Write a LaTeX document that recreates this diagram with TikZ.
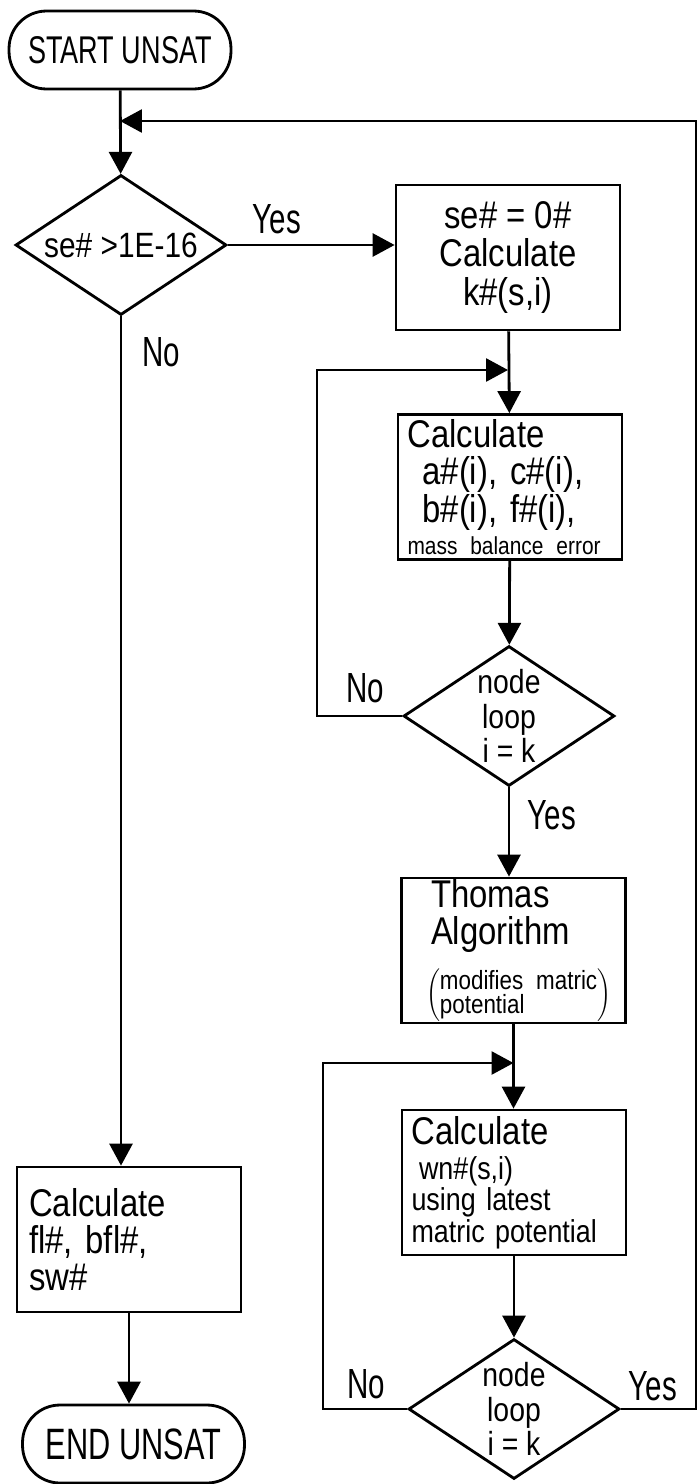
\documentclass[tikz,border=0pt]{standalone}
\usepackage{fontspec}
\setmainfont[FakeStretch=0.85]{Liberation Sans}
\newfontfamily\narrowfont[FakeStretch=0.7]{Liberation Sans}
\usetikzlibrary{arrows.meta,shapes.geometric}

\begin{document}
\begin{tikzpicture}[x=0.02cm,y=-0.02cm,line width=1.6pt,>={Triangle[length=0.44cm,width=0.46cm]}]
\tikzstyle{term}=[draw,rounded corners=0.75cm,minimum width=4.44cm,minimum height=1.56cm,font=\narrowfont\fontsize{22}{24}\selectfont];
\tikzstyle{box}=[draw,rectangle,minimum width=4.48cm,minimum height=2.9cm,inner sep=0pt,align=left,font=\fontsize{22}{21}\selectfont];
\tikzstyle{test}=[draw,diamond,aspect=1.5,minimum width=4.22cm,minimum height=2.8cm,inner sep=0pt,align=center,font=\fontsize{19}{19.5}\selectfont];
\tikzstyle{lbl}=[font=\narrowfont\fontsize{24}{26}\selectfont];
\useasboundingbox (0,0) rectangle (697,1484);
% main column
\path (120,50) node[term] (start) {START UNSAT};
\path (121,245) node[test,font=\fontsize{20}{22}\selectfont] (se) {se\# >1E-16};
\path (129,1239.5) node[box,text width=4cm] (flux) {Calculate\\fl\#, bfl\#,\\sw\#};
\path (133.5,1444) node[term,font=\narrowfont\fontsize{25}{27}\selectfont] (stop) {END UNSAT};
% iteration column
\path (508,257.5) node[box,align=center,font=\fontsize{22}{22}\selectfont] (setk) {se\# = 0\#\\Calculate\\k\#(s,i)};
\path (510,487) node[box,text width=4.1cm,font=\fontsize{22}{18}\selectfont] (coef)
  {Calculate\\[3pt]
   \hspace*{0.3cm}a\#(i), c\#(i),\\
   \hspace*{0.3cm}b\#(i), f\#(i),\\
   {\fontsize{14}{14}\selectfont mass balance error}};
\path (509,716) node[test] (loopa) {node\\loop\\i = k};
\path (513.5,950.5) node[box,text width=3.3cm] (thomas)
  {Thomas\\Algorithm\\[8pt]
   \hspace*{-0.1cm}{\fontsize{15}{12}\selectfont\def\arraystretch{0.7}$\left(\begin{tabular}{@{}l@{}}modifies matric\\potential\end{tabular}\right)$}};
\path (514,1182.5) node[box,text width=4.1cm,font=\fontsize{18}{16}\selectfont] (wn)
  {{\fontsize{22}{22}\selectfont Calculate}\\[4pt]
   \hspace*{0.15cm}wn\#(s,i)\\
   using latest\\
   matric potential};
\path (514,1409) node[test] (loopb) {node\\loop\\i = k};
% corners of the two inner loops and the outer loop
\coordinate (topright) at (696,121);
\coordinate (lefta) at (317,370);
\coordinate (leftb) at (323,1063);
\draw[->] (start) -- (se);
\draw[->] (se.east) -- (se.east -| setk.west);
\draw[->] (se.south) -- (se.south |- flux.north);
\draw[->] (flux.south) -- (flux.south |- stop.north);
\draw[->] (setk) -- (coef);
\draw[->] (coef) -- (loopa);
\draw[->] (loopa.west) -- (loopa.west -| lefta) -- (lefta) -- (lefta -| setk.south);
\draw[->] (loopa.south) -- (loopa.south |- thomas.north);
\draw[->] (thomas.south) -- (thomas.south |- wn.north);
\draw[->] (wn) -- (loopb);
\draw[->] (loopb.west) -- (loopb.west -| leftb) -- (leftb) -- (leftb -| thomas.south);
\draw[->] (loopb.east) -- (loopb.east -| topright) -- (topright) -- (start.south |- topright);
% branch labels
\path (277,219) node[lbl] (yesa) {Yes};
\path (161,352) node[lbl] (noa) {No};
\path (365,688) node[lbl] (nob) {No};
\path (552,815) node[lbl] (yesb) {Yes};
\path (366,1384) node[lbl] (noc) {No};
\path (653,1386) node[lbl] (yesc) {Yes};
\end{tikzpicture}
\end{document}
